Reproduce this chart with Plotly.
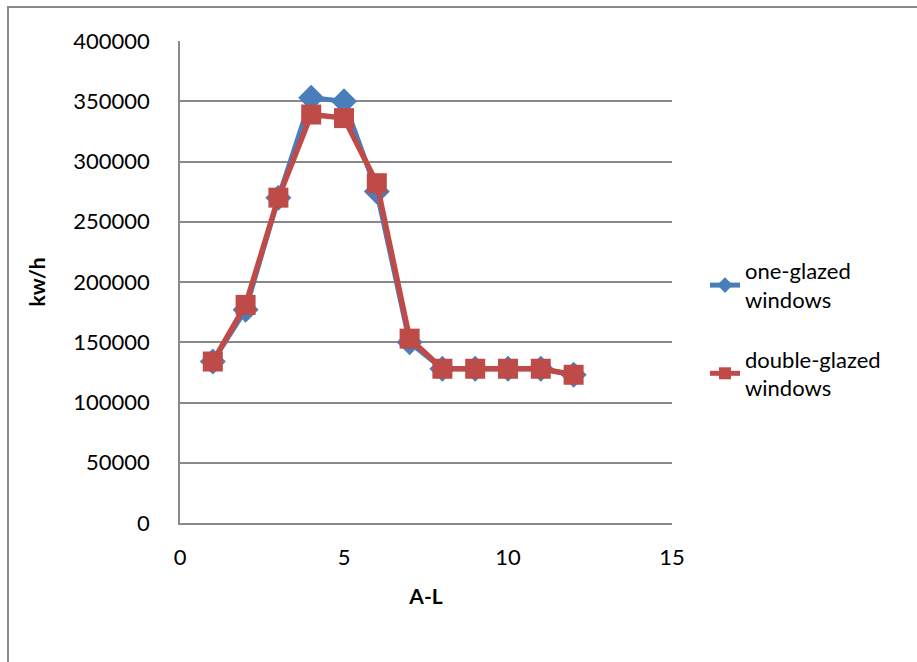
import plotly.graph_objects as go

# A-L positions and energy use (kw/h) for each glazing type
positions = [1, 2, 3, 4, 5, 6, 7, 8, 9, 10, 11, 12]
one_glazed = [134000, 177000, 270000, 353000, 350000, 275000, 150000, 128000, 128000, 128000, 128000, 123000]
double_glazed = [134000, 181000, 270000, 339000, 336000, 282000, 153000, 128000, 128000, 128000, 128000, 123000]

x_ticks = [0, 5, 10, 15]
y_ticks = [0, 50000, 100000, 150000, 200000, 250000, 300000, 350000, 400000]
y_tick_text = [str(v) for v in y_ticks]

W, H = 917, 662
L, R, T, B = 180, 245, 41, 139
pw, ph = W - L - R, H - T - B

BLUE = "#4A7EBB"
RED = "#BE4B48"
GRID = "#898989"
FONT = "Lato"

fig = go.Figure()
fig.add_trace(go.Scatter(
    x=positions, y=one_glazed, mode="lines+markers",
    name="one-glazed<br>windows", legendgroup="one",
    line=dict(color=BLUE, width=5),
    marker=dict(symbol="diamond", size=20, color=BLUE),
))
fig.add_trace(go.Scatter(
    x=positions, y=double_glazed, mode="lines+markers",
    name="double-glazed<br>windows", legendgroup="double",
    line=dict(color=RED, width=5.5),
    marker=dict(symbol="square", size=20, color=RED),
))

# outer chart frame
def px_x(p):
    return (p - L) / pw

def px_y(p):
    return (H - B - p) / ph

fig.add_shape(type="rect", xref="paper", yref="paper",
              x0=px_x(8), x1=px_x(W + 10), y0=px_y(H + 10), y1=px_y(7),
              line=dict(color=GRID, width=2), layer="below")

fig.update_layout(
    width=W, height=H,
    margin=dict(l=L, r=R, t=T, b=B, pad=0),
    paper_bgcolor="white", plot_bgcolor="white",
    font=dict(family=FONT, size=22, color="#000000"),
    showlegend=True,
    legend=dict(x=px_x(705), y=px_y(250), xanchor="left", yanchor="top",
                font=dict(family=FONT, size=22), tracegroupgap=28,
                itemsizing="constant", bgcolor="rgba(0,0,0,0)"),
    xaxis=dict(range=[0, 15], tickvals=x_ticks, showgrid=False, zeroline=False,
               showline=True, linecolor=GRID, linewidth=1.5,
               ticks="", ticklabelstandoff=14,
               title=dict(text="<b>A-L</b>", font=dict(family=FONT, size=21), standoff=20)),
    yaxis=dict(range=[0, 400000], tickvals=y_ticks, ticktext=y_tick_text,
               showgrid=True, gridcolor=GRID, gridwidth=1.5,
               zeroline=False, showline=True, linecolor=GRID, linewidth=1.5,
               ticks="", ticklabelstandoff=24,
               title=dict(text="<b>kw/h</b>", font=dict(family=FONT, size=21), standoff=22)),
)

fig.write_html("out.html")
